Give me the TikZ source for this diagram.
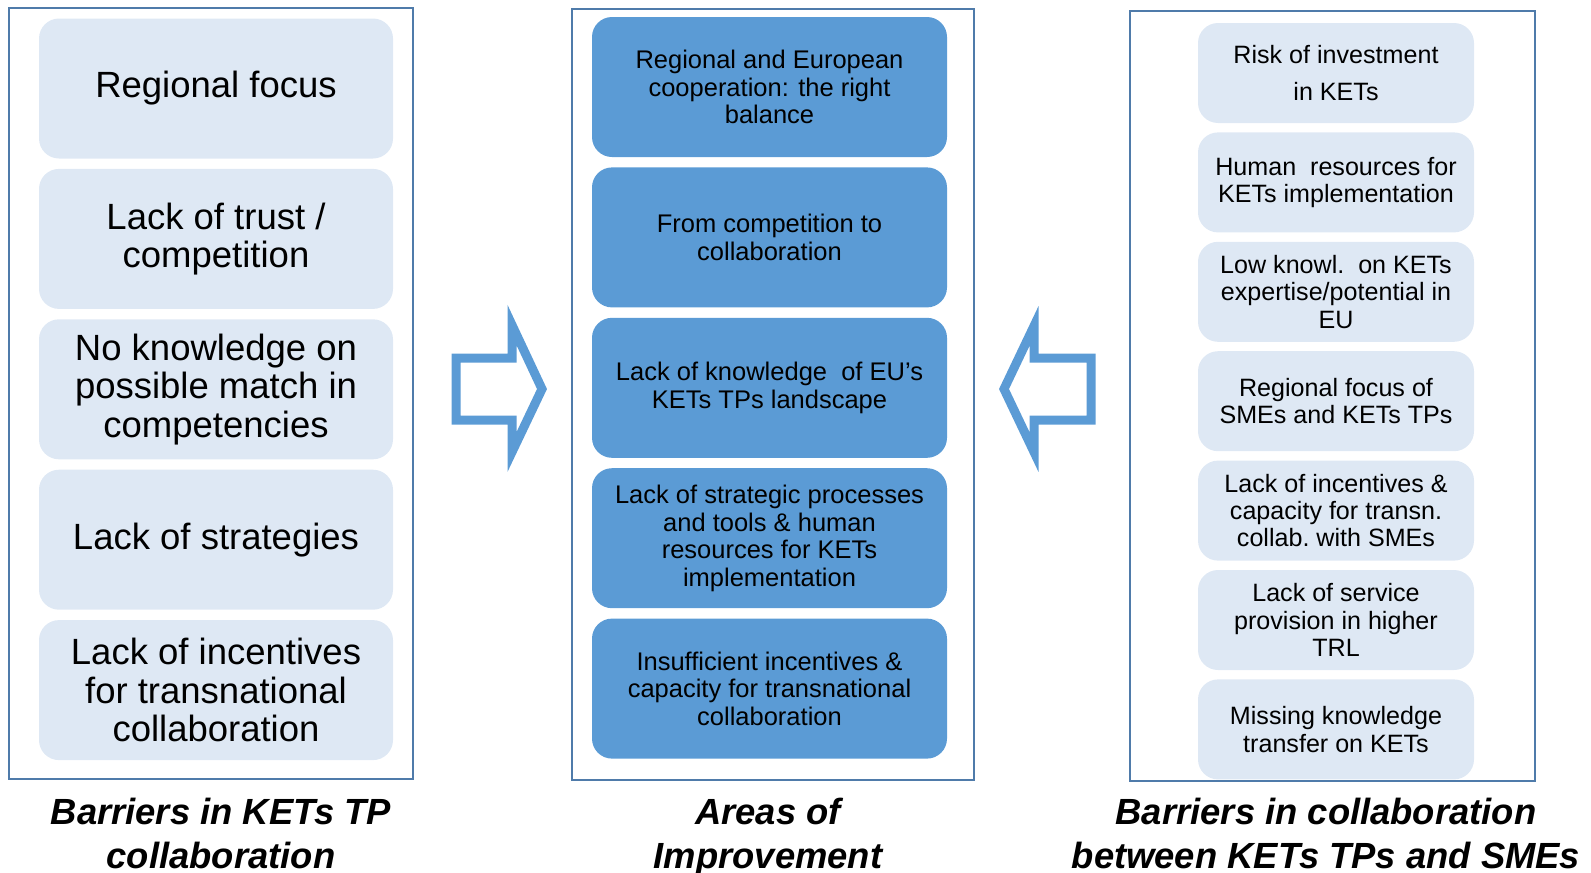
\documentclass[tikz,border=0pt]{standalone}
\usepackage{fontspec}
\setmainfont{Liberation Sans}
\usetikzlibrary{positioning}
\definecolor{barfill}{HTML}{DEE8F4}
\definecolor{areafill}{HTML}{5B9BD5}
\definecolor{panelcol}{HTML}{4F7BAA}
\definecolor{arrowcol}{HTML}{5B9BD5}

\begin{document}
\begin{tikzpicture}[x=1pt, y=-1pt,
        panel/.style={draw=panelcol, line width=2pt},
        barrier/.style={rectangle, rounded corners=20pt, fill=barfill, minimum width=354pt, minimum height=140pt, inner sep=0pt, align=center, font=\fontsize{36.5}{38.5}\selectfont},
        area/.style={rectangle, rounded corners=20pt, fill=areafill, minimum width=355pt, minimum height=140pt, inner sep=0pt, align=center, font=\fontsize{25.5}{27.5}\selectfont},
        smebar/.style={rectangle, rounded corners=20pt, fill=barfill, minimum width=276pt, minimum height=100pt, inner sep=0pt, align=center, font=\fontsize{25.1}{27.4}\selectfont},
        heading/.style={align=center, font=\fontsize{36.4}{44}\selectfont\bfseries\itshape},
        bigarrow/.style={draw=arrowcol, line width=9pt, fill=white, miter limit=10}
    ]
    \useasboundingbox (0,0) rectangle (1591,873);

    % panels
    \draw[panel] (9,8) rectangle (413,779);
    \draw[panel] (572,9) rectangle (974,780);
    \draw[panel] (1130,11) rectangle (1535,781);

    % barriers in KETs TP collaboration
    \node[barrier] (regfocus) at (216,88.5) {Regional focus};
    \node[barrier, below=10pt of regfocus] (trust) {Lack of trust /\\competition};
    \node[barrier, below=10pt of trust] (match) {No knowledge on\\possible match in\\competencies};
    \node[barrier, below=10pt of match] (strat) {Lack of strategies};
    \node[barrier, below=10pt of strat] (incent) {Lack of incentives\\for transnational\\collaboration};

    % areas of improvement
    \node[area] (balance) at (769.5,87) {Regional and European\\cooperation: the right\\balance};
    \node[area, below=10pt of balance] (compet) {From competition to\\collaboration};
    \node[area, below=10pt of compet] (landsc) {Lack of knowledge\ \ of EU’s\\KETs TPs\ landscape};
    \node[area, below=10pt of landsc] (process) {Lack of strategic processes\\and\ tools \& human\\resources for KETs\\implementation};
    \node[area, below=10pt of process] (capac) {Insufficient incentives \&\\capacity for transnational\\collaboration};

    % barriers between KETs TPs and SMEs
    \node[smebar] (risk) at (1336,73) {Risk of investment\\[10pt]in KETs};
    \node[smebar, below=9pt of risk] (human) {Human\ \ resources for\\KETs\ implementation};
    \node[smebar, below=9pt of human] (lowkn) {Low knowl.\ \ on KETs\\expertise/potential in\\EU};
    \node[smebar, below=9pt of lowkn] (smefocus) {Regional focus of\\SMEs and KETs TPs};
    \node[smebar, below=9pt of smefocus] (transn) {Lack of incentives \&\\capacity for transn.\\collab.\ with SMEs};
    \node[smebar, below=9pt of transn] (trl) {Lack of service\\provision in higher\\TRL};
    \node[smebar, below=9pt of trl] (transfer) {Missing knowledge\\transfer on KETs};

    % block arrows
    \draw[bigarrow] (456,358) -- (512,358) -- (512,325) -- (542,389) -- (512,452) -- (512,420) -- (456,420) -- cycle;
    \draw[bigarrow] (1091,358) -- (1034,358) -- (1034,326) -- (1004,389) -- (1034,452) -- (1034,420) -- (1091,420) -- cycle;

    % headings
    \node[heading] (lefthead) at (221,833) {Barriers in KETs TP\\collaboration};
    \node[heading] (midhead) at (768,837) {Areas of\\Improvement};
    \node[heading] (righthead) at (1326,833) {Barriers in collaboration\\between KETs TPs and SMEs};
\end{tikzpicture}
\end{document}
